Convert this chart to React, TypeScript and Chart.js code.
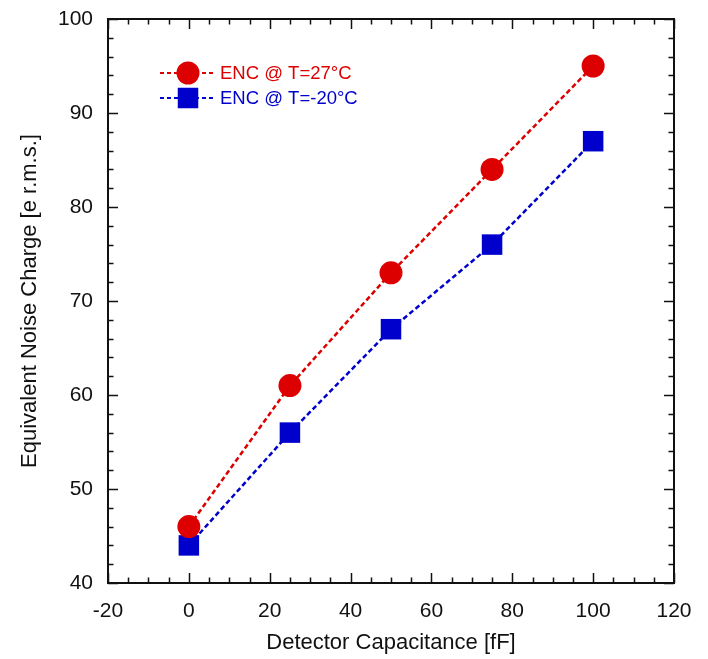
import React, { useEffect, useRef } from "react";
import { Chart, registerables } from "chart.js";

Chart.register(...registerables);

const capacitance = [0, 25, 50, 75, 100];
const encWarm = [46, 61, 73, 84, 95];
const encCold = [44, 56, 67, 76, 87];
const seriesLabels = ["ENC @ T=27°C", "ENC @ T=-20°C"];
const xTitle = "Detector Capacitance [fF]";
const yTitle = "Equivalent Noise Charge [e r.m.s.]";

const RED = "#dd0000";
const BLUE = "#0000cc";
const FONT = "'Liberation Sans', Arial, Helvetica, sans-serif";

const framePlugin = {
  id: "frameTicks",
  afterDraw(chart: any) {
    const { ctx, chartArea: a, scales } = chart;
    const xs = scales.x;
    const ys = scales.y;
    ctx.save();
    ctx.strokeStyle = "#111";
    ctx.lineWidth = 1.5;
    for (let v = xs.min; v <= xs.max + 1e-9; v += 5) {
      const px = Math.round(xs.getPixelForValue(v)) + 0.5;
      const major = Math.abs(v % 20) < 1e-9;
      const len = major ? 10 : 5.5;
      ctx.beginPath();
      ctx.moveTo(px, a.bottom);
      ctx.lineTo(px, a.bottom - len);
      ctx.moveTo(px, a.top);
      ctx.lineTo(px, a.top + len);
      ctx.stroke();
    }
    for (let v = ys.min; v <= ys.max + 1e-9; v += 2) {
      const py = Math.round(ys.getPixelForValue(v)) + 0.5;
      const major = Math.abs(v % 10) < 1e-9;
      const len = major ? 10 : 5.5;
      ctx.beginPath();
      ctx.moveTo(a.left, py);
      ctx.lineTo(a.left + len, py);
      ctx.moveTo(a.right, py);
      ctx.lineTo(a.right - len, py);
      ctx.stroke();
    }
    ctx.lineWidth = 2;
    ctx.strokeRect(a.left, a.top, a.right - a.left, a.bottom - a.top);

    chart.data.datasets.forEach((ds: any, i: number) => {
      const y = a.top + 54 + i * 25;
      const x0 = a.left + 52;
      const x1 = a.left + 105;
      const cx = a.left + 80;
      ctx.save();
      ctx.strokeStyle = ds.borderColor;
      ctx.lineWidth = 2;
      ctx.setLineDash([4, 3]);
      ctx.beginPath();
      ctx.moveTo(x0, y);
      ctx.lineTo(x1, y);
      ctx.stroke();
      ctx.restore();
      ctx.fillStyle = ds.borderColor;
      if (ds.pointStyle === "circle") {
        ctx.beginPath();
        ctx.arc(cx, y, ds.pointRadius, 0, Math.PI * 2);
        ctx.fill();
      } else {
        const s = ds.pointRadius * Math.SQRT1_2;
        ctx.fillRect(cx - s, y - s, 2 * s, 2 * s);
      }
      ctx.font = `18.5px ${FONT}`;
      ctx.textBaseline = "middle";
      ctx.textAlign = "left";
      ctx.fillText(ds.label, a.left + 112, y + 1);
    });
    ctx.restore();
  },
};

export default function App() {
  const ref = useRef<HTMLCanvasElement | null>(null);
  useEffect(() => {
    if (!ref.current) return;
    const mk = (vals: number[]) => capacitance.map((x, i) => ({ x, y: vals[i] }));
    const chart = new Chart(ref.current, {
      type: "scatter",
      data: {
        datasets: [
          {
            label: seriesLabels[0],
            data: mk(encWarm),
            showLine: true,
            borderColor: RED,
            backgroundColor: RED,
            borderWidth: 2.5,
            borderDash: [5, 3],
            pointStyle: "circle",
            pointRadius: 11.5,
            pointHoverRadius: 11.5,
            pointBorderWidth: 0,
            pointBackgroundColor: RED,
          },
          {
            label: seriesLabels[1],
            data: mk(encCold),
            showLine: true,
            borderColor: BLUE,
            backgroundColor: BLUE,
            borderWidth: 2.5,
            borderDash: [5, 3],
            pointStyle: "rect",
            pointRadius: 14.5,
            pointHoverRadius: 14.5,
            pointBorderWidth: 0,
            pointBackgroundColor: BLUE,
          },
        ],
      },
      options: {
        animation: false,
        responsive: false,
        devicePixelRatio: 1,
        layout: { padding: { top: 19, right: 34, left: 0, bottom: 0 } },
        plugins: { legend: { display: false }, tooltip: { enabled: false } },
        scales: {
          x: {
            type: "linear",
            min: -20,
            max: 120,
            grid: { display: false, drawTicks: false },
            border: { display: false },
            ticks: {
              stepSize: 20,
              padding: 16,
              color: "#111",
              font: { family: FONT, size: 21 },
              maxRotation: 0,
            },
            title: {
              display: true,
              text: xTitle,
              color: "#111",
              font: { family: FONT, size: 22 },
              padding: { top: 0, bottom: 3 },
            },
            afterFit: (s: any) => {
              s.height = 76;
              s.paddingLeft = 0;
              s.paddingRight = 0;
            },
          },
          y: {
            type: "linear",
            min: 40,
            max: 100,
            grid: { display: false, drawTicks: false },
            border: { display: false },
            ticks: {
              stepSize: 10,
              padding: 15,
              color: "#111",
              font: { family: FONT, size: 21 },
            },
            title: {
              display: true,
              text: yTitle,
              color: "#111",
              font: { family: FONT, size: 22 },
              padding: { top: 17, bottom: 0 },
            },
            afterFit: (s: any) => {
              s.width = 108;
              s.paddingTop = 0;
              s.paddingBottom = 0;
            },
          },
        },
      },
      plugins: [framePlugin],
    } as any);
    return () => chart.destroy();
  }, []);
  return (
    <div style={{ position: "absolute", left: 0, top: 0, width: 708, height: 659, background: "#fff" }}>
      <canvas ref={ref} width={708} height={659} />
    </div>
  );
}
